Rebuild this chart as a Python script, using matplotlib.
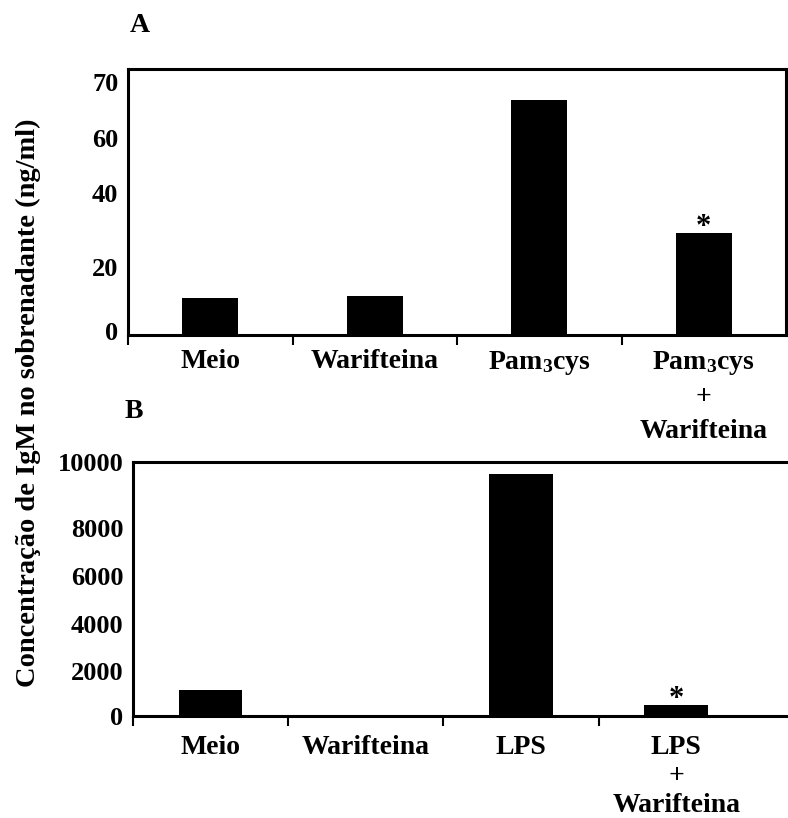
import numpy as np
import matplotlib
matplotlib.use('Agg')
from matplotlib import pyplot as plt

plt.rcParams['font.family'] = ['Liberation Serif', 'DejaVu Serif']
plt.rcParams['font.weight'] = 'bold'
plt.rcParams['mathtext.fontset'] = 'custom'
plt.rcParams['mathtext.rm'] = 'Liberation Serif:bold'
plt.rcParams['mathtext.bf'] = 'Liberation Serif:bold'
plt.rcParams['mathtext.default'] = 'bf'

# panel A: Pam3cys
cats_a = ['Meio', 'Warifteina', 'Pam$_3$cys', 'Pam$_3$cys\n+\nWarifteina']
vals_a = [10.3, 10.9, 66.8, 29.3]
ticks_a = [0, 20, 40, 60, 70]
star_a = [False, False, False, True]

# panel B: LPS
cats_b = ['Meio', 'Warifteina', 'LPS', 'LPS\n+\nWarifteina']
vals_b = [1160, 0, 9640, 490]
ticks_b = [0, 2000, 4000, 6000, 8000, 10000]
star_b = [False, False, False, True]

# the printed tick labels are not evenly spaced; map them piecewise
knots_a = [0, 64, 138, 193, 249]
knots_b = [0, 45, 92, 140, 188, 254]


def piecewise(vals, pos):
    vals = np.asarray(vals, float)
    pos = np.asarray(pos, float)

    def fwd(v):
        v = np.asarray(v, float)
        out = np.interp(v, vals, pos)
        lo = (v - vals[0]) * (pos[1] - pos[0]) / (vals[1] - vals[0]) + pos[0]
        hi = (v - vals[-1]) * (pos[-1] - pos[-2]) / (vals[-1] - vals[-2]) + pos[-1]
        return np.where(v < vals[0], lo, np.where(v > vals[-1], hi, out))

    def inv(p):
        p = np.asarray(p, float)
        out = np.interp(p, pos, vals)
        lo = (p - pos[0]) * (vals[1] - vals[0]) / (pos[1] - pos[0]) + vals[0]
        hi = (p - pos[-1]) * (vals[-1] - vals[-2]) / (pos[-1] - pos[-2]) + vals[-1]
        return np.where(p < pos[0], lo, np.where(p > pos[-1], hi, out))

    return fwd, inv


def draw_panel(ax, cats, vals, ticks, knots, stars, ylim, xmax, width, lsp, lpad):
    fwd, inv = piecewise(ticks, knots)
    ax.set_yscale('function', functions=(fwd, inv))
    ax.set_ylim(*ylim)
    x = np.arange(len(cats))
    base = ylim[0]
    heights = np.array(vals) - base
    ax.bar(x, heights, bottom=base, width=width, color='black')
    for xi, v, s in zip(x, vals, stars):
        if s:
            ax.annotate('*', (xi, v), xytext=(0, -6.5), textcoords='offset points',
                        ha='center', va='bottom', fontsize=22, fontweight='bold')
    ax.set_xlim(-0.5, xmax)
    ax.set_xticks(np.arange(len(cats)) - 0.5)
    ax.set_xticklabels([])
    ax.set_xticks(x, minor=True)
    ax.set_xticklabels(cats, minor=True, fontsize=20, fontweight='bold',
                       linespacing=lsp)
    ax.tick_params(axis='x', which='major', direction='out', length=7, width=1.5)
    ax.tick_params(axis='x', which='minor', length=0, pad=lpad)
    ax.set_yticks(ticks)
    ax.set_yticklabels([str(t) for t in ticks], fontsize=19, fontweight='bold')
    ax.tick_params(axis='y', which='major', length=0, pad=7)
    ax.set_yticks([0], minor=True)
    ax.tick_params(axis='y', which='minor', direction='out', length=8, width=1.5)
    for sp in ax.spines.values():
        sp.set_linewidth(2.2)


fig = plt.figure(figsize=(7.88, 8.18), dpi=100)
W, H = 788.0, 818.0

ax_a = fig.add_axes([128 / W, 1 - 335 / H, 658 / W, 266 / H])
draw_panel(ax_a, cats_a, vals_a, ticks_a, knots_a, star_a, (-1.25, 72.3), 3.5, 0.34,
           1.45, 10)

ax_b = fig.add_axes([133 / W, 1 - 716 / H, 655 / W, 254 / H])
draw_panel(ax_b, cats_b, vals_b, ticks_b, knots_b, star_b, (0, 10000), 3.72, 0.41,
           1.2, 14)
ax_b.spines['right'].set_visible(False)

fig.text(140 / W, 1 - 25 / H, 'A', fontsize=20, fontweight='bold', ha='center', va='center')
fig.text(134 / W, 1 - 412 / H, 'B', fontsize=20, fontweight='bold', ha='center', va='center')
fig.text(28 / W, 1 - 403 / H, 'Concentração de IgM no sobrenadante (ng/ml)',
         rotation=90, fontsize=20.5, fontweight='bold', ha='center', va='center')

fig.savefig('out.png', dpi=100)
